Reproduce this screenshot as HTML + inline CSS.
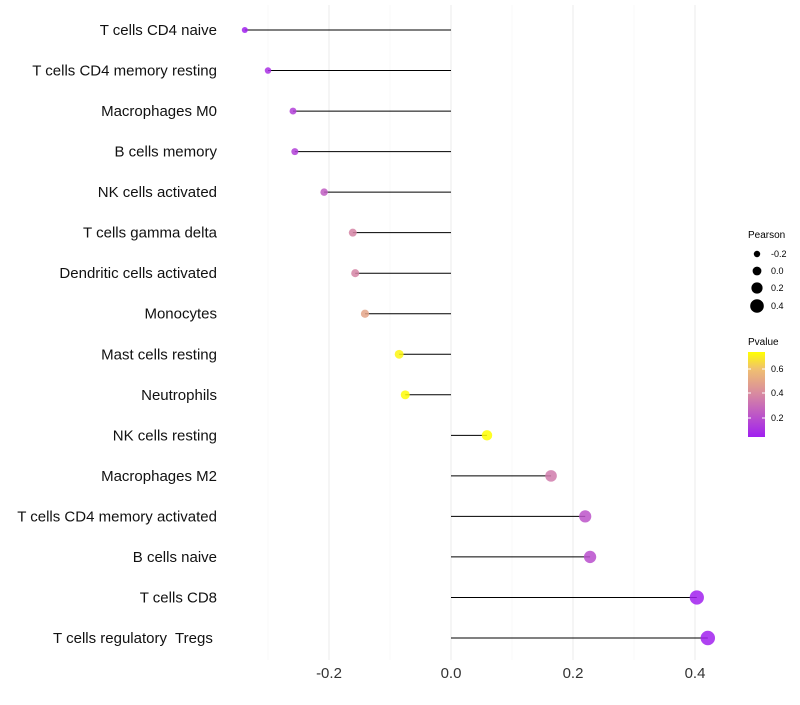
<!DOCTYPE html>
<html><head><meta charset="utf-8"><style>
body{margin:0;background:#fff;font-family:"Liberation Sans",sans-serif;}
svg text{font-family:"Liberation Sans",sans-serif;white-space:pre;}
</style></head><body>
<svg id="c" width="800" height="700" xmlns="http://www.w3.org/2000/svg">
<defs><linearGradient id="pg" x1="0" y1="1" x2="0" y2="0">
<stop offset="0" stop-color="#a020f0"/><stop offset="0.51" stop-color="#d88aa0"/><stop offset="0.8" stop-color="#f0c070"/><stop offset="1" stop-color="#ffff00"/></linearGradient></defs>
<g id="grid"></g><g id="marks"></g><g id="labels"></g>
<g font-size="9">
<text x="748" y="238" font-size="10">Pearson</text>
<circle cx="757" cy="254" r="3.2"/><text x="771" y="257">-0.2</text>
<circle cx="757" cy="271" r="4.4"/><text x="771" y="274">0.0</text>
<circle cx="757" cy="288" r="5.6"/><text x="771" y="291">0.2</text>
<circle cx="757" cy="306" r="6.8"/><text x="771" y="309">0.4</text>
</g>
<g font-size="9">
<text x="748" y="345" font-size="10">Pvalue</text>
<rect x="748" y="352" width="17" height="85" fill="url(#pg)"/>
<g stroke="#fff" stroke-width="1"><line x1="748" x2="751" y1="369" y2="369"/><line x1="762" x2="765" y1="369" y2="369"/><line x1="748" x2="751" y1="393" y2="393"/><line x1="762" x2="765" y1="393" y2="393"/><line x1="748" x2="751" y1="418" y2="418"/><line x1="762" x2="765" y1="418" y2="418"/></g>
<text x="771" y="372">0.6</text><text x="771" y="396">0.4</text><text x="771" y="421">0.2</text>
</g>
</svg>
<script>
const cells=["T cells CD4 naive","T cells CD4 memory resting","Macrophages M0","B cells memory","NK cells activated","T cells gamma delta","Dendritic cells activated","Monocytes","Mast cells resting","Neutrophils","NK cells resting","Macrophages M2","T cells CD4 memory activated","B cells naive","T cells CD8","T cells regulatory  Tregs "];
const pearson=[-0.338,-0.300,-0.259,-0.256,-0.208,-0.161,-0.157,-0.141,-0.085,-0.075,0.059,0.164,0.220,0.228,0.403,0.421];
const pvalue=[0.05,0.1,0.15,0.15,0.25,0.38,0.38,0.5,0.72,0.73,0.74,0.35,0.22,0.2,0.05,0.05];
const ticks=[-0.2,0,0.2,0.4];
const tickLabels=["-0.2","0.0","0.2","0.4"];
const minorTicks=[-0.3,-0.1,0.1,0.3];
const NS="http://www.w3.org/2000/svg";
const x=v=>451+v*610;
const y=i=>30+i*(608/15);
const rad=v=>Math.max(1.8,4.9+5.5*v);
const stops=[[0.045,[160,32,240]],[0.4,[216,138,160]],[0.6,[240,192,112]],[0.74,[255,255,0]]];
function col(p){if(p<=stops[0][0])return "rgb("+stops[0][1]+")";for(let k=1;k<stops.length;k++){if(p<=stops[k][0]){const t=(p-stops[k-1][0])/(stops[k][0]-stops[k-1][0]);const a=stops[k-1][1],b=stops[k][1];return "rgb("+a.map((c,j)=>Math.round(c+(b[j]-c)*t)).join(",")+")";}}return "rgb(255,255,0)";}
function mk(t,a,p){const e=document.createElementNS(NS,t);for(const k in a)e.setAttribute(k,a[k]);p.appendChild(e);return e;}
const g=document.getElementById('grid'),m=document.getElementById('marks'),l=document.getElementById('labels');
minorTicks.forEach(v=>{const e=mk('line',{x1:x(v),x2:x(v),y1:5,y2:660,stroke:'#f4f4f4','stroke-width':0.6},g);

});
ticks.forEach((v,i)=>{const e=mk('line',{x1:x(v),x2:x(v),y1:5,y2:660,stroke:'#ebebeb','stroke-width':1},g);


const t=mk('text',{x:x(v),y:678,'text-anchor':'middle','font-size':15,fill:'#333'},l);t.textContent=tickLabels[i];

});
cells.forEach((c,i)=>{
const ln=mk('line',{x1:x(0),x2:x(pearson[i]),y1:y(i),y2:y(i),stroke:'#000','stroke-width':1},m);


const pt=mk('circle',{cx:x(pearson[i]),cy:y(i),r:rad(pearson[i]),fill:col(pvalue[i]),'fill-opacity':0.85},m);


const t=mk('text',{x:217,y:y(i)+5,'text-anchor':'end','font-size':15,fill:'#111'},l);t.textContent=c;

});
</script>
</body></html>
